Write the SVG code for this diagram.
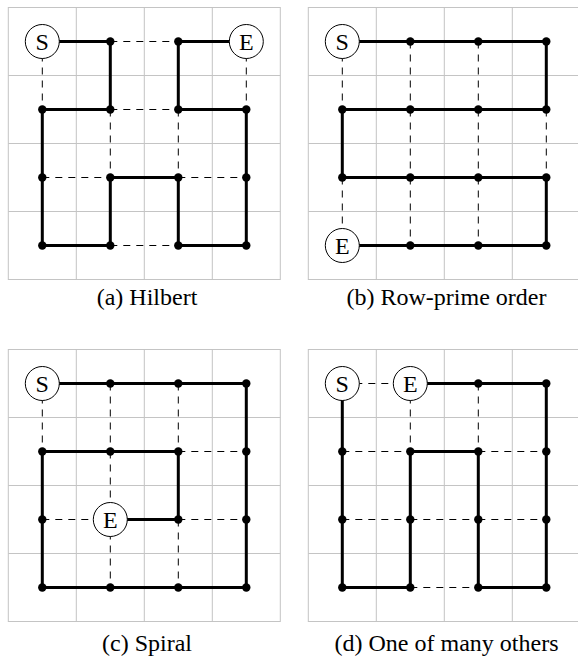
<svg xmlns="http://www.w3.org/2000/svg" width="578" height="662" viewBox="0 0 578 662">
<style>
.grid{fill:none;stroke:#c4c4c4;stroke-width:1}
.path{fill:none;stroke:#000;stroke-width:3;stroke-linejoin:miter;stroke-linecap:butt}
.dash{fill:none;stroke:#000;stroke-width:1;stroke-dasharray:7 6}
.dot{fill:#000}
.term{fill:#fff;stroke:#000;stroke-width:1}
text{font-family:'Liberation Serif','DejaVu Serif',serif;font-size:24px;fill:#000;text-anchor:middle}
</style>
<defs>
<g id="gridcells">
<rect x="0" y="0" width="272" height="272" class="grid"/>
<path class="grid" d="M68 0V272M136 0V272M204 0V272M0 68H272M0 136H272M0 204H272"/>
</g>
</defs>
<rect width="578" height="662" fill="#fff"/>

<!-- Panel (a) Hilbert -->
<g id="panel-a" transform="translate(8.3,7.5)">
<use href="#gridcells"/>
<g id="a-connectors">
<path class="dash" d="M102 34H170M34 34V102M238 34V102M102 102H170M102 102V170M170 102V170M34 170H102M170 170H238M102 238H170"/>
<path class="path" d="M34 34H102V102H34V238H102V170H170V238H238V102H170V34H238"/>
</g>
<g id="a-S"><circle class="term" cx="34" cy="34" r="17"/><text font-family="Liberation Serif, serif" x="34" y="42">S</text></g>
<g id="a-E"><circle class="term" cx="238" cy="34" r="17"/><text font-family="Liberation Serif, serif" x="238" y="42">E</text></g>
<g id="a-n10"><circle class="dot" cx="102" cy="34" r="4.2"/></g>
<g id="a-n20"><circle class="dot" cx="170" cy="34" r="4.2"/></g>
<g id="a-n01"><circle class="dot" cx="34" cy="102" r="4.2"/></g>
<g id="a-n11"><circle class="dot" cx="102" cy="102" r="4.2"/></g>
<g id="a-n21"><circle class="dot" cx="170" cy="102" r="4.2"/></g>
<g id="a-n31"><circle class="dot" cx="238" cy="102" r="4.2"/></g>
<g id="a-n02"><circle class="dot" cx="34" cy="170" r="4.2"/></g>
<g id="a-n12"><circle class="dot" cx="102" cy="170" r="4.2"/></g>
<g id="a-n22"><circle class="dot" cx="170" cy="170" r="4.2"/></g>
<g id="a-n32"><circle class="dot" cx="238" cy="170" r="4.2"/></g>
<g id="a-n03"><circle class="dot" cx="34" cy="238" r="4.2"/></g>
<g id="a-n13"><circle class="dot" cx="102" cy="238" r="4.2"/></g>
<g id="a-n23"><circle class="dot" cx="170" cy="238" r="4.2"/></g>
<g id="a-n33"><circle class="dot" cx="238" cy="238" r="4.2"/></g>
</g>

<!-- Panel (b) Row-prime -->
<g id="panel-b" transform="translate(308.3,7.5)">
<use href="#gridcells"/>
<g id="b-connectors">
<path class="dash" d="M34 34V102M102 34V102M170 34V102M102 102V170M170 102V170M238 102V170M34 170V238M102 170V238M170 170V238"/>
<path class="path" d="M34 34H238V102H34V170H238V238H34"/>
</g>
<g id="b-S"><circle class="term" cx="34" cy="34" r="17"/><text font-family="Liberation Serif, serif" x="34" y="42">S</text></g>
<g id="b-E"><circle class="term" cx="34" cy="238" r="17"/><text font-family="Liberation Serif, serif" x="34" y="246">E</text></g>
<g id="b-n10"><circle class="dot" cx="102" cy="34" r="4.2"/></g>
<g id="b-n20"><circle class="dot" cx="170" cy="34" r="4.2"/></g>
<g id="b-n30"><circle class="dot" cx="238" cy="34" r="4.2"/></g>
<g id="b-n01"><circle class="dot" cx="34" cy="102" r="4.2"/></g>
<g id="b-n11"><circle class="dot" cx="102" cy="102" r="4.2"/></g>
<g id="b-n21"><circle class="dot" cx="170" cy="102" r="4.2"/></g>
<g id="b-n31"><circle class="dot" cx="238" cy="102" r="4.2"/></g>
<g id="b-n02"><circle class="dot" cx="34" cy="170" r="4.2"/></g>
<g id="b-n12"><circle class="dot" cx="102" cy="170" r="4.2"/></g>
<g id="b-n22"><circle class="dot" cx="170" cy="170" r="4.2"/></g>
<g id="b-n32"><circle class="dot" cx="238" cy="170" r="4.2"/></g>
<g id="b-n13"><circle class="dot" cx="102" cy="238" r="4.2"/></g>
<g id="b-n23"><circle class="dot" cx="170" cy="238" r="4.2"/></g>
<g id="b-n33"><circle class="dot" cx="238" cy="238" r="4.2"/></g>
</g>

<!-- Panel (c) Spiral -->
<g id="panel-c" transform="translate(8.3,349.5)">
<use href="#gridcells"/>
<g id="c-connectors">
<path class="dash" d="M34 34V102M102 34V102M170 34V102M170 102H238M102 102V170M34 170H102M170 170H238M102 170V238M170 170V238"/>
<path class="path" d="M34 34H238V238H34V102H170V170H102"/>
</g>
<g id="c-S"><circle class="term" cx="34" cy="34" r="17"/><text font-family="Liberation Serif, serif" x="34" y="42">S</text></g>
<g id="c-E"><circle class="term" cx="102" cy="170" r="17"/><text font-family="Liberation Serif, serif" x="102" y="178">E</text></g>
<g id="c-n10"><circle class="dot" cx="102" cy="34" r="4.2"/></g>
<g id="c-n20"><circle class="dot" cx="170" cy="34" r="4.2"/></g>
<g id="c-n30"><circle class="dot" cx="238" cy="34" r="4.2"/></g>
<g id="c-n01"><circle class="dot" cx="34" cy="102" r="4.2"/></g>
<g id="c-n11"><circle class="dot" cx="102" cy="102" r="4.2"/></g>
<g id="c-n21"><circle class="dot" cx="170" cy="102" r="4.2"/></g>
<g id="c-n31"><circle class="dot" cx="238" cy="102" r="4.2"/></g>
<g id="c-n02"><circle class="dot" cx="34" cy="170" r="4.2"/></g>
<g id="c-n22"><circle class="dot" cx="170" cy="170" r="4.2"/></g>
<g id="c-n32"><circle class="dot" cx="238" cy="170" r="4.2"/></g>
<g id="c-n03"><circle class="dot" cx="34" cy="238" r="4.2"/></g>
<g id="c-n13"><circle class="dot" cx="102" cy="238" r="4.2"/></g>
<g id="c-n23"><circle class="dot" cx="170" cy="238" r="4.2"/></g>
<g id="c-n33"><circle class="dot" cx="238" cy="238" r="4.2"/></g>
</g>

<!-- Panel (d) One of many others -->
<g id="panel-d" transform="translate(308.3,349.5)">
<use href="#gridcells"/>
<g id="d-connectors">
<path class="dash" d="M34 34H102M102 34V102M170 34V102M34 102H102M170 102H238M34 170H102M102 170H170M170 170H238M102 238H170"/>
<path class="path" d="M34 34V238H102V102H170V238H238V34H102"/>
</g>
<g id="d-S"><circle class="term" cx="34" cy="34" r="17"/><text font-family="Liberation Serif, serif" x="34" y="42">S</text></g>
<g id="d-E"><circle class="term" cx="102" cy="34" r="17"/><text font-family="Liberation Serif, serif" x="102" y="42">E</text></g>
<g id="d-n20"><circle class="dot" cx="170" cy="34" r="4.2"/></g>
<g id="d-n30"><circle class="dot" cx="238" cy="34" r="4.2"/></g>
<g id="d-n01"><circle class="dot" cx="34" cy="102" r="4.2"/></g>
<g id="d-n11"><circle class="dot" cx="102" cy="102" r="4.2"/></g>
<g id="d-n21"><circle class="dot" cx="170" cy="102" r="4.2"/></g>
<g id="d-n31"><circle class="dot" cx="238" cy="102" r="4.2"/></g>
<g id="d-n02"><circle class="dot" cx="34" cy="170" r="4.2"/></g>
<g id="d-n12"><circle class="dot" cx="102" cy="170" r="4.2"/></g>
<g id="d-n22"><circle class="dot" cx="170" cy="170" r="4.2"/></g>
<g id="d-n32"><circle class="dot" cx="238" cy="170" r="4.2"/></g>
<g id="d-n03"><circle class="dot" cx="34" cy="238" r="4.2"/></g>
<g id="d-n13"><circle class="dot" cx="102" cy="238" r="4.2"/></g>
<g id="d-n23"><circle class="dot" cx="170" cy="238" r="4.2"/></g>
<g id="d-n33"><circle class="dot" cx="238" cy="238" r="4.2"/></g>
</g>

<g id="captions">
<text font-family="Liberation Serif, serif" x="147" y="305">(a) Hilbert</text>
<text font-family="Liberation Serif, serif" x="446.5" y="305">(b) Row-prime order</text>
<text font-family="Liberation Serif, serif" x="147" y="651">(c) Spiral</text>
<text font-family="Liberation Serif, serif" x="446.5" y="651">(d) One of many others</text>
</g>
</svg>
